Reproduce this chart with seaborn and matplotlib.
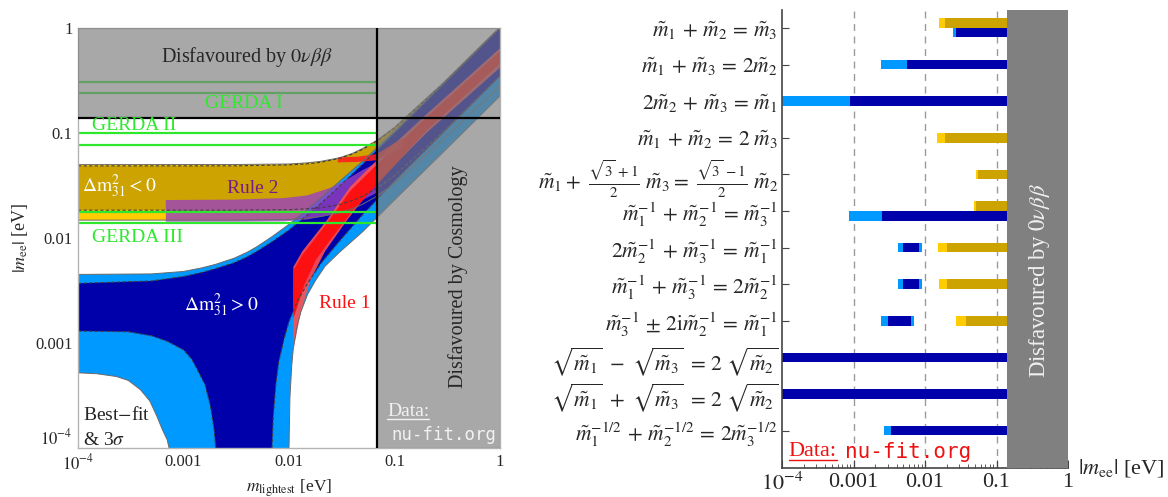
import numpy as np
import matplotlib
matplotlib.use("Agg")
import matplotlib.pyplot as plt
from matplotlib.lines import Line2D
import seaborn as sns

sns.set_style("white")
plt.rcParams['font.family'] = ['Liberation Serif', 'DejaVu Serif']
plt.rcParams['mathtext.fontset'] = 'stix'

NAN = np.nan

# ---- limits (eV) ----
bb0nu_limit = 0.14
cosmo_limit = 0.068
gerda_levels = [0.306, 0.24, 0.1, 0.077, 0.0177, 0.0139]

# ---- left panel: |m_ee| vs m_lightest, band edges ----
# normal ordering (m_lightest = m1)
nh_up3_m = [1e-4, 5e-4, 1e-3, 1.5e-3, 2e-3, 3e-3, 4e-3, 5e-3, 7e-3, 0.01, 0.014, 0.02, 0.03, 0.05, 0.1, 1.0]
nh_up3_ee = [0.0045, 0.00455, 0.0048, 0.0052, 0.0056, 0.0064, 0.0073, 0.0083, 0.0104, 0.0135, 0.0178,
             0.024, 0.0345, 0.054, 0.104, 1.02]
nh_upbf_m = [1e-4, 5e-4, 1e-3, 1.5e-3, 2e-3, 3e-3, 4e-3, 5e-3, 7e-3, 0.01, 0.014, 0.02, 0.03, 0.05, 0.1, 1.0]
nh_upbf_ee = [0.0037, 0.0039, 0.0043, 0.0047, 0.0051, 0.0058, 0.0066, 0.0075, 0.0093, 0.0119, 0.0157,
              0.0213, 0.031, 0.0507, 0.1005, 1.0]
nh_lo3_left_m = [1e-4, 1.5e-4, 2.3e-4, 3e-4, 3.9e-4, 4.8e-4, 5.6e-4, 6.3e-4, 7e-4, 7.3e-4]
nh_lo3_left_ee = [0.00052, 0.00051, 0.00048, 0.00044, 0.00036, 0.00028, 0.0002, 0.00015, 0.00012, 1e-4]
nh_lo3_right_m = [0.0100, 0.0102, 0.0106, 0.011, 0.012, 0.013, 0.015, 0.018, 0.022, 0.03, 0.05, 0.1, 0.3, 1.0]
nh_lo3_right_ee = [1e-4, 0.0003, 0.0006, 0.0009, 0.0015, 0.002, 0.0029, 0.004, 0.0054, 0.0073, 0.0115,
                   0.023, 0.068, 0.225]
nh_lobf_left_m = [1e-4, 3e-4, 5e-4, 7e-4, 1e-3, 1.2e-3, 1.43e-3, 1.6e-3, 1.8e-3, 1.95e-3, 2.02e-3]
nh_lobf_left_ee = [0.0013, 0.00128, 0.00117, 0.00104, 0.00086, 0.0007, 0.0005, 0.0004, 0.00025, 0.00015, 1e-4]
nh_lobf_right_m = [0.0069, 0.0071, 0.0075, 0.008, 0.009, 0.01, 0.012, 0.015, 0.02, 0.03, 0.05, 0.1, 0.3, 1.0]
nh_lobf_right_ee = [1e-4, 0.0002, 0.0004, 0.00066, 0.0011, 0.0016, 0.0025, 0.0037, 0.0057, 0.0093, 0.0167,
                    0.0347, 0.104, 0.349]

# inverted ordering (m_lightest = m3)
ih_m = [1e-4, 0.003, 0.01, 0.015, 0.02, 0.03, 0.04, 0.05, 0.068, 0.1, 0.3, 1.0]
ih_up3_ee = [0.0500, 0.0501, 0.0507, 0.0520, 0.0537, 0.0580, 0.0640, 0.0713, 0.0850, 0.113, 0.31, 1.02]
ih_upbf_ee = [0.0486, 0.0487, 0.0497, 0.0509, 0.0526, 0.0573, 0.0630, 0.0700, 0.0838, 0.111, 0.305, 1.0]
ih_lobf_ee = [0.0184, 0.0184, 0.0186, 0.0190, 0.0194, 0.0208, 0.0228, 0.0250, 0.0298, 0.0393, 0.106, 0.35]
ih_lo3_ee = [0.0148, 0.0148, 0.0150, 0.0155, 0.0160, 0.0174, 0.019, 0.021, 0.025, 0.033, 0.09, 0.28]

# rule 2 (purple)
rule2_m = [6.8e-4, 0.003, 0.009, 0.015, 0.0245, 0.035, 0.05, 0.068]
rule2_up = [0.0230, 0.0232, 0.0240, 0.0255, 0.0300, 0.036, 0.0445, 0.052]
rule2_lo = [0.0143, 0.0143, 0.0144, 0.0150, 0.0166, 0.019, 0.023, 0.027]

# rule 1 (red), normal ordering part
rule1_up_m = [0.011, 0.0134, 0.0229, 0.0379, 0.068, 0.2, 1.0]
rule1_up = [0.0053, 0.0075, 0.0148, 0.0306, 0.055, 0.15, 0.64]
rule1_lo_m = [0.011, 0.013, 0.016, 0.022, 0.0355, 0.0626, 0.2, 1.0]
rule1_lo = [0.00086, 0.002, 0.0040, 0.0075, 0.0148, 0.0306, 0.10, 0.42]
rule1in_up_m = [0.011, 0.0134, 0.0229, 0.0379, 0.068, 0.2, 1.0]
rule1in_up = [0.0049, 0.0069, 0.0138, 0.028, 0.050, 0.14, 0.60]
rule1in_lo_m = [0.011, 0.014, 0.018, 0.025, 0.04, 0.068, 0.2, 1.0]
rule1in_lo = [0.0017, 0.0036, 0.0062, 0.0098, 0.018, 0.032, 0.105, 0.46]
# rule 1, inverted ordering arc
rule1ih_m = [0.029, 0.045, 0.068, 0.12]
rule1ih_up = [0.0585, 0.0595, 0.063, 0.09]
rule1ih_lo = [0.0525, 0.053, 0.055, 0.072]

# ---- right panel: allowed |m_ee| ranges per sum rule ----
rel_labels = [
    r'$\tilde{m}_1 \,+\, \tilde{m}_2 \,=\, \tilde{m}_3$',
    r'$\tilde{m}_1 \,+\, \tilde{m}_3 \,=\, 2\tilde{m}_2$',
    r'$2\tilde{m}_2 \,+\, \tilde{m}_3 \,=\, \tilde{m}_1$',
    r'$\tilde{m}_1 \,+\, \tilde{m}_2 \,=\, 2\ \tilde{m}_3$',
    r'$\tilde{m}_1 +\ \frac{\sqrt{3}\,+1}{2}\ \tilde{m}_3 =\ \frac{\sqrt{3}\,-1}{2}\ \tilde{m}_2$',
    r'$\tilde{m}_1^{-1} \,+\, \tilde{m}_2^{-1} \,=\, \tilde{m}_3^{-1}$',
    r'$2\tilde{m}_2^{-1} \,+\, \tilde{m}_3^{-1} \,=\, \tilde{m}_1^{-1}$',
    r'$\tilde{m}_1^{-1} \,+\, \tilde{m}_3^{-1} \,=\, 2\tilde{m}_2^{-1}$',
    r'$\tilde{m}_3^{-1} \,\pm\, 2\mathrm{i}\tilde{m}_2^{-1} \,=\, \tilde{m}_1^{-1}$',
    r'$\sqrt{\tilde{m}_1}\ -\ \sqrt{\tilde{m}_3}\ =\, 2\ \sqrt{\tilde{m}_2}$',
    r'$\sqrt{\tilde{m}_1}\ +\ \sqrt{\tilde{m}_3}\ =\, 2\ \sqrt{\tilde{m}_2}$',
    r'$\tilde{m}_1^{-1/2} \,+\, \tilde{m}_2^{-1/2} \,=\, 2\tilde{m}_3^{-1/2}$',
]
nh_3s_lo = [0.0246, 0.00243, 5e-5, NAN, NAN, 0.000865, 0.00419, 0.00419, 0.00243, 5e-5, 5e-5, 0.00267]
nh_bf_lo = [0.0271, 0.00565, 0.00089, NAN, NAN, 0.0025, 0.00491, 0.00491, 0.00304, 5e-5, 5e-5, 0.00334]
nh_bf_hi = [0.14, 0.14, 0.14, NAN, NAN, 0.14, 0.00829, 0.00829, 0.00637, 0.14, 0.14, 0.14]
nh_3s_hi = [0.14, 0.14, 0.14, NAN, NAN, 0.14, 0.0091, 0.0091, 0.00701, 0.14, 0.14, 0.14]
ih_3s_lo = [0.0157, NAN, NAN, 0.0147, 0.0517, 0.0484, 0.0152, 0.0157, 0.0271, NAN, NAN, NAN]
ih_bf_lo = [0.0191, NAN, NAN, 0.0191, 0.0551, 0.0517, 0.0203, 0.0203, 0.0374, NAN, NAN, NAN]

C_NH_BF = '#0000aa'
C_NH_3S = '#0099ff'
C_IH_BF = '#cca300'
C_IH_3S = '#ffcc00'
C_GREEN = '#2ee82e'
MONO = ['DejaVu Sans Mono']


def band(ax, m_top, ee_top, m_bot, ee_bot, **kw):
    xs = list(m_top) + list(m_bot)[::-1]
    ys = list(ee_top) + list(ee_bot)[::-1]
    ax.fill(xs, ys, **kw)


def edge(ax, m, ee, **kw):
    sns.lineplot(x=m, y=ee, ax=ax, sort=False, estimator=None, **kw)


def underline(fig, txt, color):
    fig.canvas.draw()
    bb = txt.get_window_extent()
    inv = fig.transFigure.inverted()
    (x0, y0), (x1, _) = inv.transform([(bb.x0, bb.y0 + 1), (bb.x1, bb.y0)])
    fig.add_artist(Line2D([x0, x1], [y0, y0], transform=fig.transFigure, color=color, lw=1))


fig = plt.figure(figsize=(11.68, 4.97), dpi=100)
ax1 = fig.add_axes([78 / 1168, 49 / 497, 422 / 1168, 420 / 497])
ax2 = fig.add_axes([782 / 1168, 29 / 497, 286 / 1168, 458 / 497])

# ================= left panel =================
ax1.set_xscale('log')
ax1.set_yscale('log')
ax1.set_xlim(1e-4, 1)
ax1.set_ylim(1e-4, 1)

band(ax1, ih_m, ih_up3_ee, ih_m, ih_lo3_ee, color=C_IH_3S, lw=0)
band(ax1, ih_m, ih_upbf_ee, ih_m, ih_lobf_ee, color=C_IH_BF, lw=0)
band(ax1, nh_up3_m, nh_up3_ee, nh_lo3_left_m + nh_lo3_right_m,
     nh_lo3_left_ee + nh_lo3_right_ee, color=C_NH_3S, lw=0)
band(ax1, nh_upbf_m, nh_upbf_ee, nh_lobf_left_m + nh_lobf_right_m,
     nh_lobf_left_ee + nh_lobf_right_ee, color=C_NH_BF, lw=0)

# band edges
for m, ee in [(nh_up3_m, nh_up3_ee), (nh_lo3_left_m, nh_lo3_left_ee),
              (nh_lo3_right_m, nh_lo3_right_ee), (ih_m, ih_up3_ee), (ih_m, ih_lo3_ee)]:
    edge(ax1, m, ee, color='#6a6a6a', lw=0.7)
for m, ee in [(nh_upbf_m, nh_upbf_ee), (nh_lobf_left_m, nh_lobf_left_ee),
              (nh_lobf_right_m, nh_lobf_right_ee), (ih_m, ih_upbf_ee), (ih_m, ih_lobf_ee)]:
    edge(ax1, m, ee, color='#404040', lw=0.8, dashes=(3, 2))

band(ax1, rule2_m, rule2_up, rule2_m, rule2_lo, color='#9a40c0', alpha=0.8, lw=0)
band(ax1, rule1_up_m, rule1_up, rule1_lo_m, rule1_lo, color='#ff5050', lw=0, alpha=0.9)
band(ax1, rule1in_up_m, rule1in_up, rule1in_lo_m, rule1in_lo, color='#ff0a0a', lw=0, alpha=0.9)
band(ax1, rule1ih_m, rule1ih_up, rule1ih_m, rule1ih_lo, color='#ff2020', lw=0, alpha=0.9)

for lvl in gerda_levels:
    ax1.plot([1e-4, cosmo_limit], [lvl, lvl], color=C_GREEN, lw=1.6)

# disfavoured regions (one L-shaped overlay)
ax1.fill([1e-4, cosmo_limit, cosmo_limit, 1, 1, 1e-4],
         [bb0nu_limit, bb0nu_limit, 1e-4, 1e-4, 1, 1],
         color=(126 / 255, 126 / 255, 126 / 255), alpha=0.675, lw=0, zorder=5)
ax1.axvline(cosmo_limit, color='k', lw=1.6, zorder=6)
ax1.axhline(bb0nu_limit, color='k', lw=1.6, zorder=6)

T = ax1.transAxes
ax1.text(0.40, 0.931, r'Disfavoured by $0\nu\beta\beta$', transform=T, fontsize=14.5,
         ha='center', va='center', zorder=7)
ax1.text(0.301, 0.821, 'GERDA I', transform=T, fontsize=14, color=C_GREEN, va='center', zorder=7)
ax1.text(0.033, 0.769, 'GERDA II', transform=T, fontsize=14, color=C_GREEN, va='center', zorder=7)
ax1.text(0.033, 0.500, 'GERDA III', transform=T, fontsize=14, color=C_GREEN, va='center', zorder=7)
ax1.text(0.0095, 0.624, r'$\Delta\mathrm{m}^2_{31} < 0$', transform=T, fontsize=14,
         color='white', va='center', zorder=7)
ax1.text(0.353, 0.619, 'Rule 2', transform=T, fontsize=14, color='#7a1a8a', va='center', zorder=7)
ax1.text(0.251, 0.340, r'$\Delta\mathrm{m}^2_{31} > 0$', transform=T, fontsize=14,
         color='white', va='center', zorder=7)
ax1.text(0.571, 0.345, 'Rule 1', transform=T, fontsize=14, color='#ff1010', va='center', zorder=7)
ax1.text(0.012, 0.079, r'Best$-$fit', transform=T, fontsize=14, va='center', zorder=7)
ax1.text(0.012, 0.019, r'& 3$\sigma$', transform=T, fontsize=14, va='center', zorder=7)
ax1.text(0.90, 0.407, 'Disfavoured by Cosmology', transform=T, fontsize=14.5,
         rotation=90, ha='center', va='center', zorder=7)
t_data1 = ax1.text(0.732, 0.086, 'Data:', transform=T, fontsize=14, color='#f2f2f2',
                   va='center', zorder=7)
ax1.text(0.742, 0.031, 'nu-fit.org', transform=T, fontsize=12.5, color='#f2f2f2',
         va='center', family=MONO, zorder=7)

dec_ticks = [1e-4, 1e-3, 1e-2, 1e-1, 1]
dec_labels = [r'$10^{-4}$', '0.001', '0.01', '0.1', '1']
ax1.set_xticks(dec_ticks, dec_labels)
ax1.set_yticks(dec_ticks, dec_labels)
ax1.tick_params(which='both', direction='in', color='#8c8c8c', labelsize=12, pad=4)
ax1.tick_params(which='major', length=5)
ax1.tick_params(which='minor', length=2.5)
ax1.get_yticklabels()[0].set_va('bottom')
for s in ax1.spines.values():
    s.set_color('#b4b4b4')
    s.set_linewidth(1)
ax1.set_xlabel(r'$m_{\rm lightest}$ [eV]', fontsize=12.5, labelpad=3)
ax1.set_ylabel(r'$|m_{\rm ee}|$ [eV]', fontsize=13, labelpad=4)

# ================= right panel =================
ax2.set_xscale('log')
ax2.set_xlim(1e-4, 1)
ax2.set_ylim(12.02, -0.49)
bar_h = 0.26
for i in range(len(rel_labels)):
    has_nh = not np.isnan(nh_3s_lo[i])
    has_ih = not np.isnan(ih_3s_lo[i])
    stacked = has_nh and has_ih and nh_3s_hi[i] > ih_3s_lo[i]
    if has_ih:
        y = i - 0.13 if stacked else i
        ax2.barh(y, bb0nu_limit - ih_3s_lo[i], left=ih_3s_lo[i], height=bar_h, color=C_IH_3S, lw=0)
        ax2.barh(y, bb0nu_limit - ih_bf_lo[i], left=ih_bf_lo[i], height=bar_h, color=C_IH_BF, lw=0)
    if has_nh:
        y = i + 0.13 if stacked else i
        ax2.barh(y, nh_3s_hi[i] - nh_3s_lo[i], left=nh_3s_lo[i], height=bar_h, color=C_NH_3S, lw=0)
        ax2.barh(y, nh_bf_hi[i] - nh_bf_lo[i], left=nh_bf_lo[i], height=bar_h, color=C_NH_BF, lw=0)

for xv in [1e-3, 1e-2, 1e-1]:
    ax2.axvline(xv, color='#9a9a9a', lw=1, dashes=(5, 4), zorder=0)
ax2.axvspan(bb0nu_limit, 1, color='#808080', lw=0, zorder=4)
ax2.text(0.40, 6.9, r'Disfavoured by $0\nu\beta\beta$', fontsize=16.5, color='#f0f0f0',
         rotation=90, ha='center', va='center', zorder=5)

ax2.set_yticks(range(len(rel_labels)), rel_labels)
ax2.set_xticks(dec_ticks, dec_labels)
ax2.tick_params(axis='y', which='both', direction='in', length=5, labelsize=15.5, pad=3, color='#444444')
ax2.tick_params(axis='x', which='both', direction='in', labelsize=16, color='#444444', bottom=True)
ax2.tick_params(axis='x', which='major', length=6)
ax2.tick_params(axis='x', which='minor', length=3)
ax2.tick_params(left=True)
for side in ['top', 'right']:
    ax2.spines[side].set_visible(False)
for side in ['left', 'bottom']:
    ax2.spines[side].set_color('#444444')
    ax2.spines[side].set_linewidth(1.2)

ax2.text(1.035, 0.0, r'$|m_{\rm ee}|$ [eV]', transform=ax2.transAxes, fontsize=16, va='center', ha='left')
t_data2 = ax2.text(0.024, 0.035, 'Data:', transform=ax2.transAxes, fontsize=16, color='#ee1111',
                   va='center', zorder=6)
ax2.text(0.22, 0.035, 'nu-fit.org', transform=ax2.transAxes, fontsize=15, color='#ee1111',
         va='center', family=MONO, zorder=6)

underline(fig, t_data1, '#f2f2f2')
underline(fig, t_data2, '#ee1111')

fig.savefig('out.png', dpi=100)
plt.close(fig)
